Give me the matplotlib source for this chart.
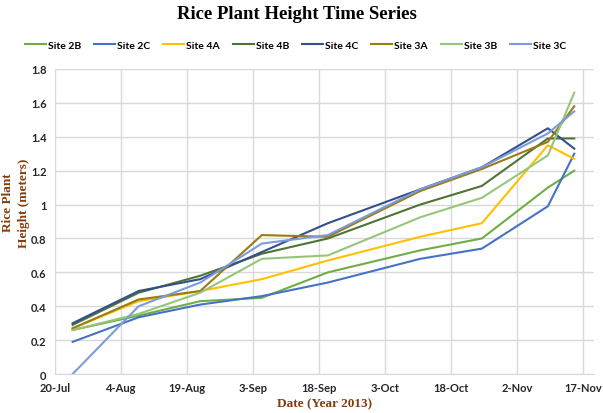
import pandas as pd
import numpy as np
import matplotlib
matplotlib.use('Agg')
import matplotlib.pyplot as plt

# sampling dates (2013)
dates = pd.to_datetime(['2013-07-24', '2013-08-08', '2013-08-22', '2013-09-05', '2013-09-20',
                        '2013-10-11', '2013-10-25', '2013-11-09', '2013-11-15'])

site_2b = [0.26, 0.345, 0.43, 0.45, 0.60, 0.73, 0.80, 1.10, 1.20]
site_2c = [0.19, 0.335, 0.41, 0.46, 0.54, 0.68, 0.74, 0.99, 1.30]
site_4a = [0.27, 0.43, 0.49, 0.56, 0.67, 0.81, 0.89, 1.35, 1.27]
site_4b = [0.29, 0.48, 0.58, 0.71, 0.80, 1.00, 1.11, 1.39, 1.39]
site_4c = [0.30, 0.49, 0.56, 0.72, 0.89, 1.09, 1.22, 1.45, 1.33]
site_3a = [0.27, 0.44, 0.49, 0.82, 0.81, 1.08, 1.21, 1.37, 1.58]
site_3b = [0.26, 0.355, 0.48, 0.68, 0.70, 0.925, 1.04, 1.29, 1.66]
site_3c = [0.00, 0.40, 0.54, 0.77, 0.82, 1.09, 1.22, 1.42, 1.55]

labels = ['Site 2B', 'Site 2C', 'Site 4A', 'Site 4B', 'Site 4C', 'Site 3A', 'Site 3B', 'Site 3C']
series = [site_2b, site_2c, site_4a, site_4b, site_4c, site_3a, site_3b, site_3c]
colors = ['#70AD47', '#4472C4', '#FFC000', '#4E7434', '#34508A', '#9C7A14', '#95C77A', '#7B9CDA']

fig = plt.figure(figsize=(6.03, 4.14), dpi=100)
ax = fig.add_axes([0.0912, 0.094, 0.894, 0.737])

for vals, lab, c in zip(series, labels, colors):
    ax.plot(dates, vals, color=c, linewidth=1.5, label=lab)

ax.set_ylim(0, 1.8)
ax.set_yticks(np.arange(0, 1.81, 0.2))
ax.set_yticklabels(['0', '0.2', '0.4', '0.6', '0.8', '1', '1.2', '1.4', '1.6', '1.8'])
ax.set_xlim(pd.Timestamp('2013-07-20'), pd.Timestamp('2013-11-19 12:00'))
ticks = pd.date_range('2013-07-20', periods=9, freq='15D')
ax.set_xticks(ticks)
ax.set_xticklabels([f'{t.day}-{t.strftime("%b")}' for t in ticks])

ax.grid(True, color='#D9D9D9', linewidth=1)
ax.set_axisbelow(True)
for s in ['top', 'right', 'left']:
    ax.spines[s].set_visible(False)
ax.spines['bottom'].set_color('#D9D9D9')
ax.tick_params(length=0, labelsize=8, pad=6)
for t in ax.get_xticklabels() + ax.get_yticklabels():
    t.set_fontweight('bold')
    t.set_family('Lato')
    t.set_color('#262626')

ax.set_xlabel('Date (Year 2013)', family='Liberation Serif', fontweight='bold',
              fontsize=9.5, color='#843C0C', labelpad=3)
fig.text(0.027, 0.51, 'Rice Plant\nHeight (meters)', rotation=90, ha='center', va='center',
         family='Liberation Serif', fontweight='bold', fontsize=9.5, color='#843C0C',
         linespacing=1.4)

fig.suptitle('Rice Plant Height Time Series', x=0.493, y=0.985, family='Liberation Serif',
             fontweight='bold', fontsize=13.5)

fig.legend(loc='center', bbox_to_anchor=(0.49, 0.889), ncol=8, frameon=False,
           prop={'family': 'Lato', 'weight': 'bold', 'size': 7.5}, handlelength=2.0,
           handletextpad=0.2, columnspacing=1.25)

fig.savefig('out.png', dpi=100)
